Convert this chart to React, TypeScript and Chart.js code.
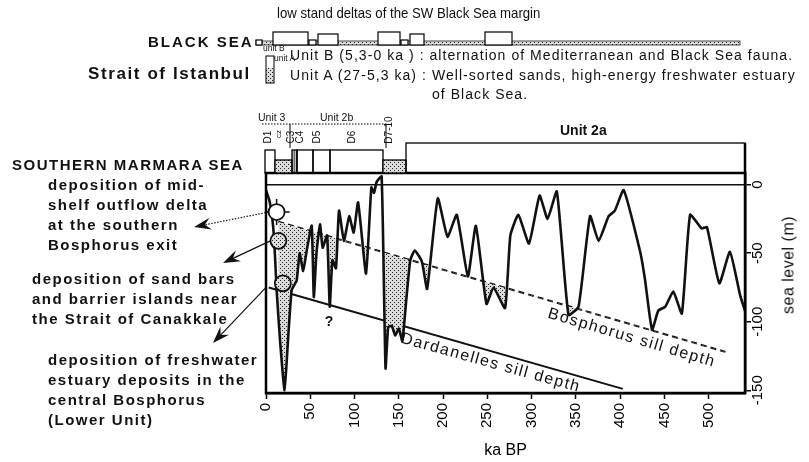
import React, { useEffect, useRef } from "react";
import { Chart, registerables } from "chart.js";

Chart.register(...registerables);

// ---------------- data ----------------
const curveKa = [0, 4, 8, 10, 12, 16, 21, 25, 29, 34.6, 38, 42, 46, 51.6, 54, 57, 61, 64, 69, 72, 75, 79, 82.5, 88, 94, 99, 104, 113, 119, 122, 125, 130.6, 135, 138, 142, 146, 150, 154, 159, 163, 168, 176, 182, 194, 205, 215.5, 228, 237, 249, 257, 270, 276, 285, 297, 309, 318, 328.5, 341.6, 353, 366, 375.6, 387, 394, 404, 422.6, 428, 436, 443, 451, 460, 469.7, 479, 492, 498, 512, 524, 535.6, 541];
const curveM = [-4, -12, -30, -50, -77, -115, -150, -112, -77, -70, -50, -63, -48, -30, -82, -50, -29, -46, -37, -89, -55, -61, -19, -41, -23, -35, -13, -65, -2, -6, 2, 6, -134, -104, -103, -110, -105, -114, -80, -55, -48, -56, -76, -10, -38, -22, -67, -30, -87, -75, -90, -37, -22, -43, -8, -25, -5, -95, -89, -23, -41, -23, -19, -4, -49, -69, -106, -92, -89, -78, -94, -22, -32, -31, -72, -49, -81, -92];
const bosphorusKa = [14, 519];
const bosphorusM = [-27, -122];
const dardanellesKa = [3, 403];
const dardanellesM = [-75, -149];
const depositKa = [12, 14, 19];
const depositM = [-20, -41, -72];
const xTickValues = [0, 50, 100, 150, 200, 250, 300, 350, 400, 450, 500];
const yTickValues = [0, -50, -100, -150];

const FONT = '"Liberation Sans", Arial, sans-serif';

type Lbl = { t: string; x: number; y: number; s: number; b?: boolean; ls?: number; rot?: number; c?: boolean; sx?: number };

const LY = 5; // vertical shift of left annotation column
const labels: Lbl[] = [
  { t: "low stand deltas of the SW Black Sea margin", x: 277, y: 13, s: 15, sx: 0.88 },
  { t: "BLACK SEA", x: 148, y: 42, s: 15, b: true, ls: 2 },
  { t: "unit B", x: 263, y: 48, s: 8.5 },
  { t: "unit A", x: 274, y: 58, s: 8.5 },
  { t: "Strait of Istanbul", x: 88, y: 74, s: 17, b: true, ls: 1.6 },
  { t: "Unit B (5,3-0 ka ) : alternation of Mediterranean and Black Sea fauna.", x: 290, y: 55, s: 14, ls: 1.05 },
  { t: "Unit A (27-5,3 ka) : Well-sorted sands, high-energy freshwater estuary", x: 290, y: 75, s: 14, ls: 1.05 },
  { t: "of Black Sea.", x: 432, y: 94, s: 14, ls: 1.05 },
  { t: "Unit 3", x: 258, y: 117, s: 10.5 },
  { t: "Unit 2b", x: 320, y: 117, s: 10.5 },
  { t: "D1", x: 268, y: 137, s: 10, rot: -90 },
  { t: "cz", x: 279, y: 134, s: 8, rot: -90 },
  { t: "C3", x: 291, y: 137, s: 10, rot: -90 },
  { t: "C4", x: 300, y: 137, s: 10, rot: -90 },
  { t: "D5", x: 317, y: 137, s: 10, rot: -90 },
  { t: "D6", x: 352, y: 137, s: 10, rot: -90 },
  { t: "D7-10", x: 389, y: 130, s: 10, rot: -90 },
  { t: "Unit 2a", x: 560, y: 130, s: 14, b: true },
  { t: "SOUTHERN MARMARA SEA", x: 12, y: 165, s: 15, b: true, ls: 1.5 },
  { t: "deposition of mid-", x: 48, y: 180 + LY, s: 15, b: true, ls: 1.5 },
  { t: "shelf outflow delta", x: 48, y: 200 + LY, s: 15, b: true, ls: 1.5 },
  { t: "at the southern", x: 48, y: 220 + LY, s: 15, b: true, ls: 1.5 },
  { t: "Bosphorus exit", x: 48, y: 240 + LY, s: 15, b: true, ls: 1.5 },
  { t: "deposition of sand bars", x: 32, y: 274 + LY, s: 15, b: true, ls: 1.5 },
  { t: "and barrier islands near", x: 32, y: 294 + LY, s: 15, b: true, ls: 1.5 },
  { t: "the Strait of Canakkale", x: 32, y: 314 + LY, s: 15, b: true, ls: 1.5 },
  { t: "deposition of freshwater", x: 48, y: 355 + LY, s: 15, b: true, ls: 1.5 },
  { t: "estuary deposits in the", x: 48, y: 375 + LY, s: 15, b: true, ls: 1.5 },
  { t: "central Bosphorus", x: 48, y: 395 + LY, s: 15, b: true, ls: 1.5 },
  { t: "(Lower Unit)", x: 48, y: 415 + LY, s: 15, b: true, ls: 1.5 },
  { t: "?", x: 329, y: 321, s: 14, b: true, c: true },
  { t: "Bosphorus sill depth", x: 632, y: 337, s: 16, ls: 1.5, rot: 16.5 },
  { t: "Dardanelles sill depth", x: 491, y: 362, s: 16, ls: 1.5, rot: 15.5 },
  { t: "sea level (m)", x: 788, y: 265, s: 16, ls: 0.5, rot: -90 },
];

// decorative layout (page pixels)
const blackSeaBoxes = [
  [256, 262, 40], [273, 308, 32], [309, 316, 40], [318, 338, 34], [378, 400, 32], [401, 408, 40], [410, 424, 34], [485, 512, 32],
];
const unitBoxes: [number, number, number, string][] = [
  [265, 275, 150, "w"], [275, 292, 160, "s"], [292, 297, 150, "h"], [297, 313, 150, "w"], [313, 330, 150, "w"], [330, 383, 150, "w"], [383, 406, 160, "s"], [406, 745, 143, "w"],
];
const arrowTips = [[194, 222 + LY], [223, 258 + LY], [213, 338 + LY]];

function drawArrow(ctx: CanvasRenderingContext2D, x0: number, y0: number, x1: number, y1: number, dotted: boolean) {
  const ang = Math.atan2(y1 - y0, x1 - x0);
  const c = Math.cos(ang), s = Math.sin(ang);
  const L = 17, W = 6, N = 11;
  ctx.save();
  ctx.strokeStyle = "#111";
  ctx.fillStyle = "#111";
  ctx.lineWidth = 1.2;
  ctx.setLineDash(dotted ? [1.5, 1.5] : []);
  ctx.beginPath();
  ctx.moveTo(x0, y0);
  ctx.lineTo(x1 - N * c, y1 - N * s);
  ctx.stroke();
  ctx.setLineDash([]);
  const bx = x1 - L * c, by = y1 - L * s;
  ctx.beginPath();
  ctx.moveTo(x1, y1);
  ctx.lineTo(bx + W * s, by - W * c);
  ctx.lineTo(x1 - N * c, y1 - N * s);
  ctx.lineTo(bx - W * s, by + W * c);
  ctx.closePath();
  ctx.fill();
  ctx.restore();
}

export default function App() {
  const ref = useRef<HTMLCanvasElement>(null);
  useEffect(() => {
    const canvas = ref.current!;
    const pc = document.createElement("canvas");
    pc.width = 4;
    pc.height = 4;
    const p = pc.getContext("2d")!;
    p.fillStyle = "#dcdcdc";
    p.fillRect(0, 0, 4, 4);
    p.fillStyle = "#222";
    p.fillRect(0, 0, 1, 1);
    p.fillRect(2, 2, 1, 1);
    const ctx0 = canvas.getContext("2d")!;
    const pattern = ctx0.createPattern(pc, "repeat")!;

    const decor = {
      id: "decor",
      afterDraw(chart: any) {
        const ctx: CanvasRenderingContext2D = chart.ctx;
        const a = chart.chartArea;
        ctx.save();
        ctx.strokeStyle = "#000";
        ctx.lineWidth = 2.5;
        ctx.strokeRect(a.left, a.top, a.right - a.left, a.bottom - a.top);
        ctx.beginPath();
        ctx.moveTo(a.right, 143);
        ctx.lineTo(a.right, a.top);
        ctx.stroke();
        const ys = chart.scales.y;
        ctx.fillStyle = "#000";
        ctx.font = `15px ${FONT}`;
        ys.ticks.forEach((t: any) => {
          const py = ys.getPixelForValue(t.value);
          ctx.save();
          ctx.translate(a.right + 13, py);
          ctx.rotate(-Math.PI / 2);
          ctx.textAlign = "center";
          ctx.textBaseline = "middle";
          ctx.fillText(String(t.value), 0, 0);
          ctx.restore();
        });
        ctx.lineWidth = 1.3;
        unitBoxes.forEach(([x0, x1, top, kind]) => {
          if (kind === "s") {
            ctx.fillStyle = pattern;
            ctx.fillRect(x0, top, x1 - x0, a.top - top);
          } else if (kind === "h") {
            ctx.strokeStyle = "#333";
            ctx.lineWidth = 0.8;
            for (let x = x0 + 1; x < x1; x += 1.6) {
              ctx.beginPath();
              ctx.moveTo(x, top);
              ctx.lineTo(x, a.top);
              ctx.stroke();
            }
            ctx.lineWidth = 1.3;
          }
          ctx.strokeStyle = "#000";
          ctx.strokeRect(x0, top, x1 - x0, a.top - top);
        });
        ctx.setLineDash([1.5, 1.5]);
        ctx.lineWidth = 1;
        ctx.beginPath();
        ctx.moveTo(262, 124);
        ctx.lineTo(387, 124);
        ctx.stroke();
        ctx.setLineDash([]);
        ctx.beginPath();
        ctx.moveTo(290, 124);
        ctx.lineTo(290, 148);
        ctx.moveTo(386, 124);
        ctx.lineTo(386, 148);
        ctx.stroke();
        ctx.fillStyle = pattern;
        ctx.fillRect(256, 41, 484, 4);
        ctx.strokeStyle = "#222";
        ctx.lineWidth = 0.8;
        ctx.strokeRect(256, 41, 484, 4);
        ctx.lineWidth = 1.2;
        blackSeaBoxes.forEach(([x0, x1, top]) => {
          ctx.fillStyle = "#fff";
          ctx.fillRect(x0, top, x1 - x0, 45 - top);
          ctx.strokeStyle = "#000";
          ctx.strokeRect(x0, top, x1 - x0, 45 - top);
        });
        ctx.fillStyle = pattern;
        ctx.fillRect(266, 68, 8, 15);
        ctx.strokeStyle = "#000";
        ctx.lineWidth = 1;
        ctx.strokeRect(266, 56, 8, 27);
        const xs = chart.scales.x;
        const pts = depositKa.map((k, i) => [xs.getPixelForValue(k), ys.getPixelForValue(depositM[i])]);
        drawArrow(ctx, pts[0][0] - 8, pts[0][1], arrowTips[0][0], arrowTips[0][1], true);
        drawArrow(ctx, pts[1][0] - 8, pts[1][1], arrowTips[1][0], arrowTips[1][1], false);
        drawArrow(ctx, a.left, ys.getPixelForValue(dardanellesM[0]), arrowTips[2][0], arrowTips[2][1], false);
        ctx.restore();
      },
    };

    const chart = new Chart(canvas, {
      type: "scatter",
      data: {
        datasets: [
          {
            data: curveKa.map((x, i) => ({ x, y: curveM[i] })),
            showLine: true,
            borderColor: "#111",
            borderWidth: 2.6,
            pointRadius: 0,
            tension: 0.15,
            fill: { target: 1, above: "rgba(0,0,0,0)", below: pattern } as any,
            order: 2,
          },
          {
            data: bosphorusKa.map((x, i) => ({ x, y: bosphorusM[i] })),
            showLine: true,
            borderColor: "#111",
            borderWidth: 2,
            borderDash: [6, 4],
            pointRadius: 0,
            order: 3,
          },
          {
            data: dardanellesKa.map((x, i) => ({ x, y: dardanellesM[i] })),
            showLine: true,
            borderColor: "#111",
            borderWidth: 2,
            pointRadius: 0,
            order: 3,
          },
          {
            data: [{ x: depositKa[0], y: depositM[0] }],
            pointStyle: "cross",
            pointRadius: 13,
            borderColor: "#111",
            borderWidth: 1.5,
            order: 1,
          },
          {
            data: depositKa.map((x, i) => ({ x, y: depositM[i] })),
            pointStyle: "circle",
            pointRadius: 8,
            backgroundColor: ["#fff", pattern, pattern] as any,
            borderColor: "#111",
            borderWidth: 1.8,
            order: 0,
          },
        ],
      },
      options: {
        animation: false,
        responsive: false,
        devicePixelRatio: 1,
        layout: { padding: { left: 266, top: 173, right: 0, bottom: 0 } },
        plugins: { legend: { display: false }, tooltip: { enabled: false } },
        scales: {
          x: {
            type: "linear",
            position: "bottom",
            min: 0,
            max: 541,
            afterBuildTicks: (s: any) => {
              s.ticks = xTickValues.map((v) => ({ value: v }));
            },
            afterFit: (s: any) => {
              s.height = 69;
            },
            ticks: {
              minRotation: 90,
              maxRotation: 90,
              padding: 4,
              color: "#000",
              font: { family: FONT, size: 15 },
            },
            grid: { drawOnChartArea: false, tickLength: 6, tickColor: "#000", tickWidth: 1.5 },
            border: { display: true, color: "#000", width: 2.5 },
            title: { display: true, text: "ka BP", color: "#000", font: { family: FONT, size: 16 }, padding: { top: 0, bottom: 2 } },
          },
          y: {
            type: "linear",
            position: "right",
            min: -152,
            max: 8.5,
            afterBuildTicks: (s: any) => {
              s.ticks = yTickValues.map((v) => ({ value: v }));
            },
            afterFit: (s: any) => {
              s.width = 64;
            },
            ticks: { display: false },
            grid: {
              drawOnChartArea: true,
              color: (c: any) => (c.tick && c.tick.value === 0 ? "#111" : "rgba(0,0,0,0)"),
              lineWidth: 1.5,
              tickLength: 6,
              tickColor: "#000",
              tickWidth: 1.5,
            },
            border: { display: true, color: "#000", width: 2.5 },
          },
        },
      },
      plugins: [decor],
    } as any);
    return () => chart.destroy();
  }, []);

  return (
    <div style={{ position: "absolute", left: 0, top: 0, width: 809, height: 462, background: "#fff", overflow: "hidden" }}>
      <canvas ref={ref} width={809} height={462} style={{ position: "absolute", left: 0, top: 0, width: 809, height: 462 }} />
      {labels.map((l, i) => {
        const lh = Math.round(l.s * 1.2);
        const base: React.CSSProperties = {
          position: "absolute",
          whiteSpace: "nowrap",
          fontFamily: FONT,
          fontSize: l.s,
          fontWeight: l.b ? 700 : 400,
          letterSpacing: l.ls ? `${l.ls}px` : undefined,
          lineHeight: `${lh}px`,
          color: "#111",
        };
        if (l.rot !== undefined || l.c) {
          return (
            <div key={i} style={{ ...base, left: l.x, top: l.y, transform: `translate(-50%, -50%) rotate(${l.rot || 0}deg)` }}>
              {l.t}
            </div>
          );
        }
        return (
          <div
            key={i}
            style={{
              ...base,
              left: l.x,
              top: l.y - lh / 2,
              transform: l.sx ? `scaleX(${l.sx})` : undefined,
              transformOrigin: "left center",
            }}
          >
            {l.t}
          </div>
        );
      })}
    </div>
  );
}
